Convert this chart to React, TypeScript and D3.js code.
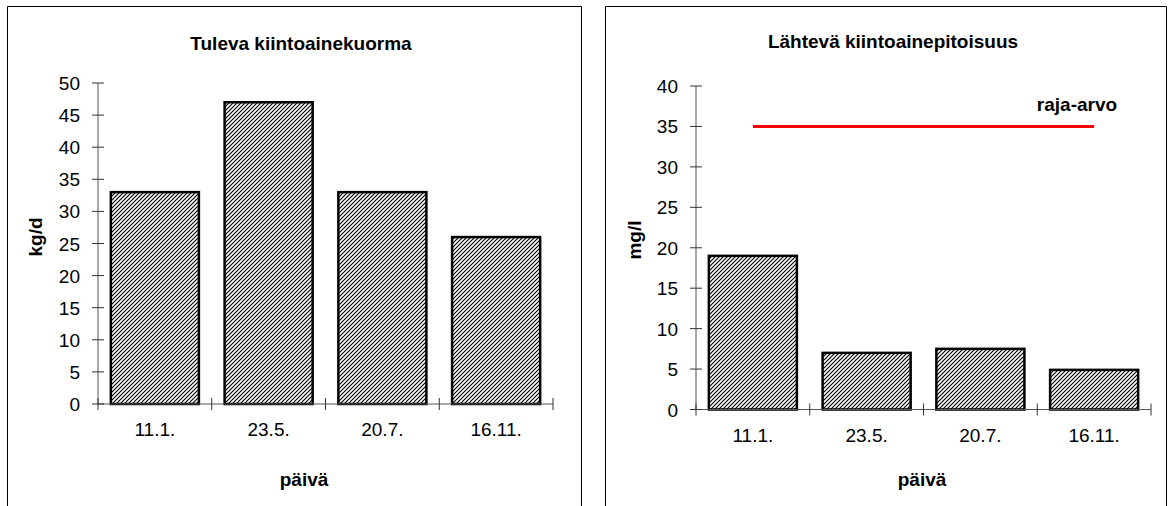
import React from "react";
import * as d3 from "d3";

const categories = ["11.1.", "23.5.", "20.7.", "16.11."];
const incomingLoad = [33, 47, 33, 26];
const outgoingConc = [19, 7, 7.5, 4.9];
const limitValue = 35;
const leftTicks = [0, 5, 10, 15, 20, 25, 30, 35, 40, 45, 50];
const rightTicks = [0, 5, 10, 15, 20, 25, 30, 35, 40];

const FONT = "'Liberation Sans', Arial, sans-serif";

type PanelProps = {
  px: number; pw: number;
  x0: number; x1: number; yTop: number; yBottom: number; yMax: number;
  values: number[]; ticks: number[];
  title: string; titleX: number; titleY: number;
  yTitle: string; yTitleX: number; yTitleY: number;
  xTitleX: number;
  limit?: number;
};

function Panel(p: PanelProps) {
  const x = d3.scaleBand<string>().domain(categories).range([p.x0, p.x1]).paddingInner(0.226).paddingOuter(0.113);
  const y = d3.scaleLinear().domain([0, p.yMax]).range([p.yBottom, p.yTop]);
  const step = x.step();
  const bounds = d3.range(categories.length + 1).map(i => p.x0 + i * step);
  const line = d3.line<number>().x((_, i) => (x(categories[i]) as number) + x.bandwidth() / 2).y(v => y(v));
  return (
    <g>
      <path d={`M${p.px},520 V6.5 H${p.px + p.pw} V520`} fill="none" stroke="#000" strokeWidth={1} />
      <text x={p.titleX} y={p.titleY} textAnchor="middle" fontFamily={FONT} fontWeight="bold" fontSize={19}>{p.title}</text>
      {p.values.map((v, i) => (
        <rect key={i} x={x(categories[i])} y={y(v)} width={x.bandwidth()} height={y(0) - y(v)}
          fill="url(#hatch)" stroke="#000" strokeWidth={2.5} />
      ))}
      <line x1={p.x0} x2={p.x0} y1={y(p.yMax)} y2={y(0)} stroke="#555" strokeWidth={1} />
      <line x1={p.x0} x2={p.x1} y1={y(0)} y2={y(0)} stroke="#555" strokeWidth={1} />
      {p.ticks.map(t => (
        <g key={t}>
          <line x1={p.x0 - 6} x2={p.x0 + 6} y1={y(t)} y2={y(t)} stroke="#333" strokeWidth={1} />
          <text x={p.x0 - 18} y={y(t) + 7} textAnchor="end" fontFamily={FONT} fontSize={19}>{t}</text>
        </g>
      ))}
      {bounds.map((b, i) => (
        <line key={i} x1={b} x2={b} y1={y(0) - 6} y2={y(0) + 6} stroke="#333" strokeWidth={1} />
      ))}
      {categories.map(c => (
        <text key={c} x={(x(c) as number) + x.bandwidth() / 2} y={y(0) + 32} textAnchor="middle" fontFamily={FONT} fontSize={19}>{c}</text>
      ))}
      <text transform={`translate(${p.yTitleX},${p.yTitleY}) rotate(-90)`} textAnchor="middle" fontFamily={FONT} fontWeight="bold" fontSize={19}>{p.yTitle}</text>
      <text x={p.xTitleX} y={486} textAnchor="middle" fontFamily={FONT} fontWeight="bold" fontSize={19}>päivä</text>
      {p.limit !== undefined && (
        <g>
          <path d={line(categories.map(() => p.limit as number)) || ""} fill="none" stroke="#ff0000" strokeWidth={3} />
          <text x={1077} y={111} textAnchor="middle" fontFamily={FONT} fontWeight="bold" fontSize={19}>raja-arvo</text>
        </g>
      )}
    </g>
  );
}

export default function App() {
  return (
    <svg width={1171} height={506} style={{ position: "absolute", left: 0, top: 0, background: "#fff" }}>
      <defs>
        <pattern id="hatch" patternUnits="userSpaceOnUse" width={4} height={4}>
          <rect width={4} height={4} fill="#fff" />
          <path d="M-1,1 L1,-1 M0,4 L4,0 M3,5 L5,3" stroke="#000" strokeWidth={1.15} />
        </pattern>
      </defs>
      <rect width={1171} height={506} fill="#fff" />
      <Panel px={7.5} pw={574} x0={98} x1={553} yTop={83} yBottom={404} yMax={50}
        values={incomingLoad} ticks={leftTicks}
        title="Tuleva kiintoainekuorma" titleX={301} titleY={50}
        yTitle="kg/d" yTitleX={42} yTitleY={237} xTitleX={304} />
      <Panel px={605.5} pw={561} x0={696} x1={1151} yTop={86} yBottom={409.5} yMax={40}
        values={outgoingConc} ticks={rightTicks}
        title="Lähtevä kiintoainepitoisuus" titleX={893} titleY={48}
        yTitle="mg/l" yTitleX={641} yTitleY={240} xTitleX={922} limit={limitValue} />
    </svg>
  );
}
